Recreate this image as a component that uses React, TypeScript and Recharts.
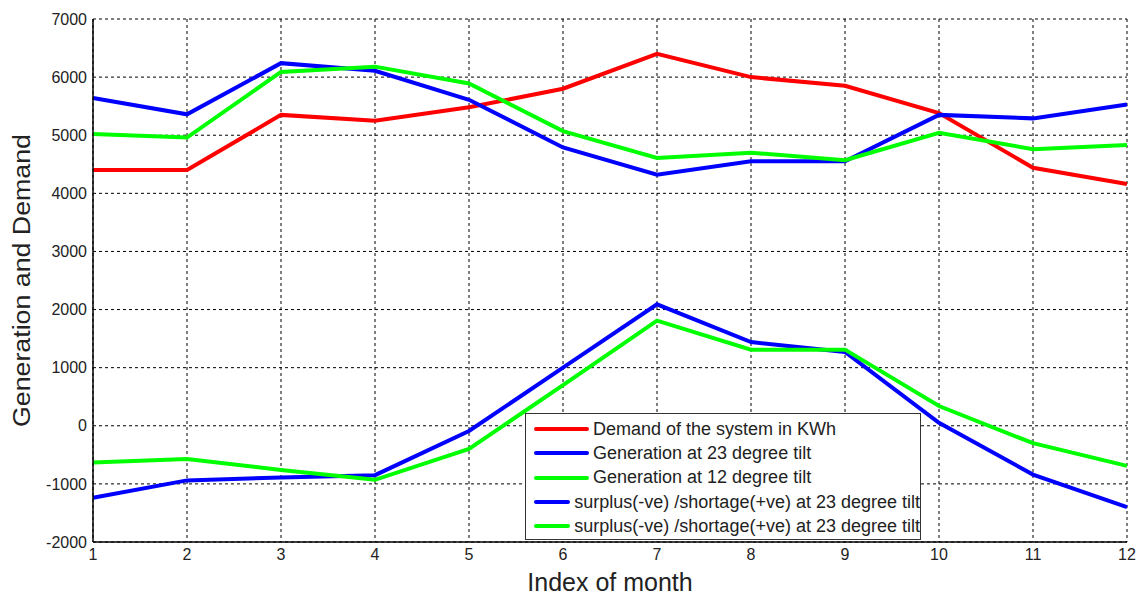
import React from "react";
import {
  LineChart, Line, XAxis, YAxis, CartesianGrid, Legend, Label,
} from "recharts";

// ---------------------------------------------------------------------------
// Data
// ---------------------------------------------------------------------------

const months = [1, 2, 3, 4, 5, 6, 7, 8, 9, 10, 11, 12];
const demand = [4400, 4400, 5350, 5250, 5480, 5800, 6400, 6000, 5850, 5380, 4440, 4160];
const gen23 = [5640, 5360, 6240, 6110, 5610, 4790, 4320, 4550, 4550, 5350, 5290, 5530];
const gen12 = [5020, 4960, 6090, 6180, 5890, 5070, 4610, 4700, 4570, 5040, 4760, 4830];
const surplus23 = [-1240, -940, -890, -850, -90, 1000, 2090, 1440, 1270, 50, -840, -1400];
const surplus12 = [-630, -570, -760, -930, -400, 700, 1810, 1310, 1310, 340, -300, -690];
const yTicks = [-2000, -1000, 0, 1000, 2000, 3000, 4000, 5000, 6000, 7000];

const data = months.map((m, i) => ({
  month: m,
  demand: demand[i],
  gen23: gen23[i],
  gen12: gen12[i],
  surplus23: surplus23[i],
  surplus12: surplus12[i],
}));

// plot order = legend order (later lines drawn on top, like MATLAB)
const series = [
  { key: "demand", name: "Demand of the system in KWh", color: "#ff0000" },
  { key: "gen23", name: "Generation at 23 degree tilt", color: "#0000ff" },
  { key: "gen12", name: "Generation at 12 degree tilt", color: "#00ff00" },
  { key: "surplus23", name: "surplus(-ve) /shortage(+ve) at 23 degree tilt", color: "#0000ff" },
  { key: "surplus12", name: "surplus(-ve) /shortage(+ve) at 23 degree tilt", color: "#00ff00" },
];

const FONT = "'Liberation Sans', Arial, sans-serif";
const TEXT = "#222";

// ---------------------------------------------------------------------------
// Legend box (MATLAB style)
// ---------------------------------------------------------------------------

function BoxLegend() {
  return (
    <div style={{
      border: "1.5px solid #333", background: "#fff", boxSizing: "border-box",
      width: 396, height: 127, paddingTop: 3, fontFamily: FONT,
    }}>
      {series.map((s, i) => (
        <div key={i} style={{ display: "flex", alignItems: "center", height: 24.3 }}>
          <span style={{
            display: "inline-block", width: 55, height: 4, marginLeft: 8,
            background: s.color, borderRadius: 2,
          }} />
          <span style={{ fontSize: 18, color: TEXT, marginLeft: 4, whiteSpace: "nowrap" }}>
            {s.name}
          </span>
        </div>
      ))}
    </div>
  );
}

function YTitle({ viewBox }: any) {
  const cy = viewBox.y + viewBox.height / 2;
  const cx = 22;
  return (
    <text
      x={cx} y={cy} transform={`rotate(-90 ${cx} ${cy})`}
      textAnchor="middle" dominantBaseline="central"
      fontSize={23} fill={TEXT} fontFamily={FONT}
      textLength={293} lengthAdjust="spacingAndGlyphs"
    >
      Generation and Demand
    </text>
  );
}

// ---------------------------------------------------------------------------
// Main
// ---------------------------------------------------------------------------

export default function App() {
  const tick = { fill: TEXT, fontSize: 16, fontFamily: FONT };
  return (
    <div style={{ position: "absolute", left: 0, top: 0, background: "#fff" }}>
      <LineChart
        width={1141}
        height={597}
        data={data}
        margin={{ top: 19, right: 14, bottom: 0, left: 0 }}
      >
        <CartesianGrid stroke="#000" strokeDasharray="3 3" strokeWidth={1} />
        <XAxis
          dataKey="month"
          type="number"
          domain={[1, 12]}
          ticks={months}
          height={55}
          tickSize={0}
          tickMargin={7}
          tick={tick}
          axisLine={{ stroke: "#000", strokeWidth: 1.5 }}
        >
          <Label
            value="Index of month"
            position="insideBottom"
            offset={6}
            fontSize={25}
            fill={TEXT}
            fontFamily={FONT}
          />
        </XAxis>
        <YAxis
          type="number"
          domain={[-2000, 7000]}
          ticks={yTicks}
          width={93}
          tickSize={0}
          tickMargin={6}
          tick={tick}
          axisLine={{ stroke: "#000", strokeWidth: 1.5 }}
        >
          <Label content={<YTitle />} />
        </YAxis>
        <Legend
          layout="vertical"
          align="center"
          verticalAlign="middle"
          content={<BoxLegend />}
          wrapperStyle={{ left: 525, top: 413, width: 396, height: 127 }}
        />
        {series.map((s) => (
          <Line
            key={s.key}
            type="linear"
            dataKey={s.key}
            name={s.name}
            stroke={s.color}
            strokeWidth={4}
            dot={false}
            isAnimationActive={false}
          />
        ))}
      </LineChart>
    </div>
  );
}
